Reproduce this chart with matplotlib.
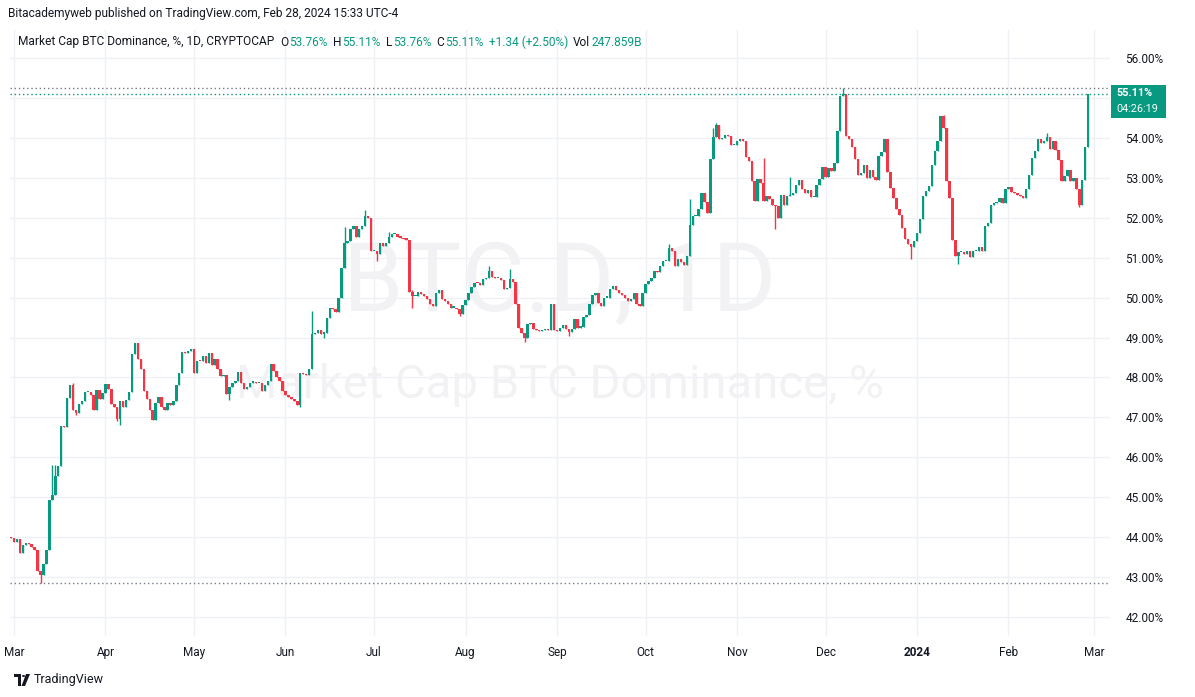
import matplotlib
matplotlib.use("Agg")
import matplotlib.pyplot as plt
import matplotlib.dates as mdates
from matplotlib.patches import Rectangle, Polygon, Circle
import numpy as np
import pandas as pd

# ---------------- data (BTC.D daily closes, %) ----------------
first_open = 44.00
feb_2023 = [43.98]
mar_2023 = [43.88, 43.95, 43.60, 43.80, 43.85, 43.83, 43.75, 43.68, 43.15, 43.05,
            43.33, 43.67, 44.93, 45.06, 45.54, 45.79, 46.79, 46.75, 47.48, 47.81,
            47.19, 47.11, 47.33, 47.42, 47.63, 47.63, 47.55, 47.19, 47.69, 47.47, 47.60]
apr_2023 = [47.83, 47.72, 47.33, 47.27, 46.97, 47.42, 47.25, 47.43, 47.64, 48.58,
            48.86, 48.47, 48.20, 47.67, 47.47, 47.19, 46.94, 47.36, 47.50, 47.27,
            47.19, 47.36, 47.30, 47.42, 47.80, 48.12, 48.64, 48.60, 48.65, 48.70]
may_2023 = [48.12, 48.42, 48.40, 48.54, 48.37, 48.62, 48.30, 48.45, 48.22, 48.04,
            48.06, 47.58, 47.77, 47.85, 47.90, 48.14, 47.87, 47.70, 47.77, 47.87,
            47.88, 47.85, 47.86, 47.66, 47.80, 47.90, 48.33, 48.17, 48.00, 47.90, 47.65]
jun_2023 = [47.55, 47.50, 47.45, 47.40, 47.30, 48.12, 48.08, 48.06, 48.22, 49.08,
            49.12, 49.20, 49.10, 49.12, 49.50, 49.75, 49.72, 49.64, 50.00, 50.75,
            51.37, 51.42, 51.71, 51.80, 51.52, 51.71, 51.80, 52.04, 52.00, 51.17]
jul_2023 = [51.17, 51.08, 51.37, 51.29, 51.37, 51.52, 51.58, 51.58, 51.52, 51.50,
            51.47, 51.45, 50.14, 50.04, 50.04, 50.13, 50.08, 50.04, 49.96, 49.83,
            49.79, 50.12, 50.19, 49.96, 49.92, 49.83, 49.75, 49.75, 49.71, 49.58, 49.81]
aug_2023 = [49.95, 50.12, 50.27, 50.37, 50.36, 50.31, 50.46, 50.50, 50.67, 50.52,
            50.48, 50.48, 50.45, 50.22, 50.25, 50.46, 50.40, 49.83, 49.25, 49.11,
            49.00, 49.33, 49.37, 49.21, 49.19, 49.17, 49.19, 49.22, 49.19, 49.85, 49.19]
sep_2023 = [49.17, 49.25, 49.31, 49.22, 49.14, 49.22, 49.46, 49.25, 49.27, 49.52,
            49.56, 49.83, 50.06, 50.12, 49.87, 49.79, 50.00, 50.00, 50.21, 50.29,
            50.19, 50.11, 50.06, 50.00, 49.92, 49.97, 50.12, 49.83, 49.79, 50.12]
oct_2023 = [50.33, 50.42, 50.48, 50.67, 50.64, 50.79, 50.92, 50.92, 51.25, 51.17,
            50.79, 50.96, 50.89, 50.81, 51.04, 51.81, 52.04, 52.04, 52.22, 52.62,
            52.39, 52.11, 53.46, 54.02, 54.33, 53.96, 54.00, 54.08, 54.04, 53.81, 53.81]
nov_2023 = [53.92, 53.96, 53.93, 53.52, 53.43, 52.92, 52.42, 52.97, 52.86, 52.42,
            52.54, 52.46, 52.33, 52.29, 52.00, 52.56, 52.31, 52.54, 52.56, 52.61,
            52.83, 52.94, 52.71, 52.62, 52.69, 52.52, 52.52, 52.83, 52.96, 53.27]
dec_2023 = [53.03, 53.25, 53.17, 53.37, 54.17, 55.04, 55.09, 54.04, 53.96, 53.77,
            53.48, 53.07, 53.12, 53.33, 53.00, 53.20, 53.02, 52.95, 53.54, 53.65,
            53.96, 53.15, 52.75, 52.50, 52.23, 52.08, 51.75, 51.46, 51.35, 51.27, 51.42]
jan_2024 = [51.62, 51.96, 52.54, 52.67, 52.79, 53.31, 53.67, 53.92, 54.54, 54.25,
            52.92, 52.50, 51.44, 51.04, 51.14, 51.14, 51.08, 51.17, 51.02, 51.17,
            51.17, 51.27, 51.17, 51.79, 51.87, 52.33, 52.37, 52.40, 52.50, 52.37, 52.72]
feb_2024 = [52.77, 52.64, 52.62, 52.56, 52.55, 52.50, 52.73, 53.08, 53.50, 53.67,
            53.96, 53.86, 53.92, 54.02, 53.71, 53.92, 53.69, 53.44, 52.92, 53.04,
            53.19, 52.92, 53.00, 52.71, 52.33, 52.94, 53.77, 55.11]

wick_highs = {"2023-03-14": 45.80, "2023-03-15": 45.80, "2023-03-21": 47.85,
              "2023-06-10": 49.67, "2023-06-21": 51.77, "2023-06-28": 52.19,
              "2023-07-06": 51.65, "2023-07-14": 50.20, "2023-08-09": 50.78,
              "2023-08-16": 50.71, "2023-10-09": 51.35, "2023-10-16": 52.46,
              "2023-10-24": 54.25, "2023-10-25": 54.37, "2023-11-10": 53.50,
              "2023-11-19": 53.02, "2023-12-07": 55.24, "2024-01-10": 54.58,
              "2024-02-14": 54.12}
wick_lows = {"2023-03-10": 42.86, "2023-03-22": 47.05, "2023-04-05": 46.90,
             "2023-04-06": 46.80, "2023-05-13": 47.44, "2023-06-06": 47.27,
             "2023-06-14": 48.98, "2023-07-02": 50.92, "2023-07-14": 49.75,
             "2023-07-30": 49.55, "2023-08-21": 48.89, "2023-09-05": 49.05,
             "2023-11-14": 51.72, "2023-12-30": 50.96, "2024-01-15": 50.83,
             "2024-02-25": 52.27}

month_ticks = ["2023-03-01", "2023-04-01", "2023-05-01", "2023-06-01", "2023-07-01",
               "2023-08-01", "2023-09-01", "2023-10-01", "2023-11-01", "2023-12-01",
               "2024-01-01", "2024-02-01", "2024-03-01"]
month_labels = ["Mar", "Apr", "May", "Jun", "Jul", "Aug", "Sep", "Oct", "Nov", "Dec",
                "2024", "Feb", "Mar"]
price_ticks = [42, 43, 44, 45, 46, 47, 48, 49, 50, 51, 52, 53, 54, 55, 56]
hidden_price_labels = [55]   # covered by the last-price tag in the reference

title_text = "Bitacademyweb published on TradingView.com, Feb 28, 2024 15:33 UTC-4"
legend_name = "Market Cap BTC Dominance, %, 1D, CRYPTOCAP"
legend_parts = [("O", "53.76%"), ("H", "55.11%"), ("L", "53.76%"), ("C", "55.11%"),
                ("", "+1.34 (+2.50%)"), ("Vol", "247.859B")]
last_label = "55.11%"
countdown = "04:26:19"

# ---------------- styling ----------------
GREEN = "#089981"
RED = "#F23645"
TXT = "#131722"
GRID = "#EEF0F5"
FONT = "Roboto"
plt.rcParams["font.family"] = [FONT, "DejaVu Sans"]

W, H = 1195, 697
fig = plt.figure(figsize=(W / 100, H / 100), dpi=100)
fig.patch.set_facecolor("white")

L, R, T, B = 10, 1110, 30, 636
ax = fig.add_axes([L / W, 1 - B / H, (R - L) / W, (B - T) / H])
ax.set_facecolor("white")

dates = pd.date_range("2023-02-28", "2024-02-28", freq="D")
closes = np.array(feb_2023 + mar_2023 + apr_2023 + may_2023 + jun_2023 + jul_2023 +
                  aug_2023 + sep_2023 + oct_2023 + nov_2023 + dec_2023 + jan_2024 +
                  feb_2024, dtype=float)
assert len(closes) == len(dates)
opens = np.concatenate([[first_open], closes[:-1]])
highs = np.maximum(opens, closes)
lows = np.minimum(opens, closes)
for d, v in wick_highs.items():
    i = dates.get_loc(pd.Timestamp(d))
    highs[i] = max(highs[i], v)
for d, v in wick_lows.items():
    i = dates.get_loc(pd.Timestamp(d))
    lows[i] = min(lows[i], v)

x = mdates.date2num(dates)
up = closes >= opens
cols = np.where(up, GREEN, RED)

# grid
tick_x = mdates.date2num(pd.to_datetime(month_ticks))
for tx in tick_x:
    ax.axvline(tx, color=GRID, lw=1, zorder=0)
for p in price_ticks:
    ax.axhline(p, color=GRID, lw=1, zorder=0)

# watermark
ax.text(0.5, 1 - (285 - T) / (B - T), "BTC.D, 1D", transform=ax.transAxes,
        ha="center", va="center", fontsize=70, color="#F2F2F4", zorder=0.5)
ax.text(0.5, 1 - (385 - T) / (B - T), "Market Cap BTC Dominance, %", transform=ax.transAxes,
        ha="center", va="center", fontsize=34, color="#F2F2F4", zorder=0.5)

# candles
ax.vlines(x, lows, highs, colors=cols, lw=1, zorder=2)
body = np.maximum(np.abs(closes - opens), 0.03)
ax.bar(x, body, bottom=np.minimum(opens, closes), width=0.82, color=cols,
       linewidth=0, zorder=3)

# high / low / last price lines
ax.axhline(highs.max(), color="#787B86", lw=1, ls=(0, (1, 2)), zorder=1)
ax.axhline(lows.min(), color="#787B86", lw=1, ls=(0, (1, 2)), zorder=1)
ax.axhline(closes[-1], color=GREEN, lw=1, ls=(0, (1, 2)), zorder=1)

# limits
x0 = mdates.date2num(pd.Timestamp("2023-03-01"))
px_day = 2.951
ax.set_xlim(x0 + (L - 14) / px_day, x0 + (R - 14) / px_day)
px_pct = 39.93
ax.set_ylim(56 - (B - 58) / px_pct, 56 + (58 - T) / px_pct)

# axes
for s in ax.spines.values():
    s.set_visible(False)
ax.yaxis.tick_right()
ax.set_yticks(price_ticks)
ax.set_yticklabels(["" if p in hidden_price_labels else f"{p:.2f}%" for p in price_ticks])
ax.set_xticks(tick_x)
ax.set_xticklabels(month_labels)
ax.tick_params(axis="both", length=0, labelsize=8.5, colors=TXT)
ax.tick_params(axis="y", pad=11)
ax.tick_params(axis="x", pad=7)
for lab in ax.get_xticklabels():
    if lab.get_text() == "2024":
        lab.set_fontweight("bold")

# last price tag
def px2fig(xp, yp):
    return xp / W, 1 - yp / H

fig.patches.append(Rectangle(px2fig(1111, 118), 55 / W, 33 / H, transform=fig.transFigure,
                             facecolor=GREEN, edgecolor="none"))
fig.text(*px2fig(1116, 93), last_label, color="white", fontsize=7.8, fontweight="bold",
         ha="left", va="center")
fig.text(*px2fig(1116, 109), countdown, color="white", fontsize=7.8, ha="left", va="center")

# header
fig.text(*px2fig(8, 14), title_text, color=TXT, fontsize=8.6, ha="left", va="center")

renderer = fig.canvas.get_renderer()
LS = 8.6
cx = 18
t = fig.text(*px2fig(cx, 42), legend_name, color=TXT, fontsize=LS, ha="left", va="center")
cx += t.get_window_extent(renderer).width + 6
for lab, val in legend_parts:
    if lab:
        t = fig.text(*px2fig(cx, 42), lab, color=TXT, fontsize=LS, ha="left", va="center")
        cx += t.get_window_extent(renderer).width + 1
    t = fig.text(*px2fig(cx, 42), val, color=GREEN, fontsize=LS, ha="left", va="center")
    cx += t.get_window_extent(renderer).width + 5

# footer logo
fig.patches.append(Rectangle(px2fig(14, 677), 7 / W, 3 / H, transform=fig.transFigure,
                             facecolor=TXT, edgecolor="none"))
fig.patches.append(Rectangle(px2fig(17.5, 686), 3.5 / W, 9 / H, transform=fig.transFigure,
                             facecolor=TXT, edgecolor="none"))
fig.patches.append(Circle(px2fig(23.5, 676), 1.6 / W, transform=fig.transFigure,
                          facecolor=TXT, edgecolor="none"))
fig.patches.append(Polygon([px2fig(26, 674), px2fig(30, 674), px2fig(25, 686), px2fig(21.5, 686)],
                           closed=True, transform=fig.transFigure, facecolor=TXT, edgecolor="none"))
fig.text(*px2fig(34, 680), "TradingView", color=TXT, fontsize=9, ha="left", va="center")

fig.savefig("out.png", dpi=100, facecolor="white")
